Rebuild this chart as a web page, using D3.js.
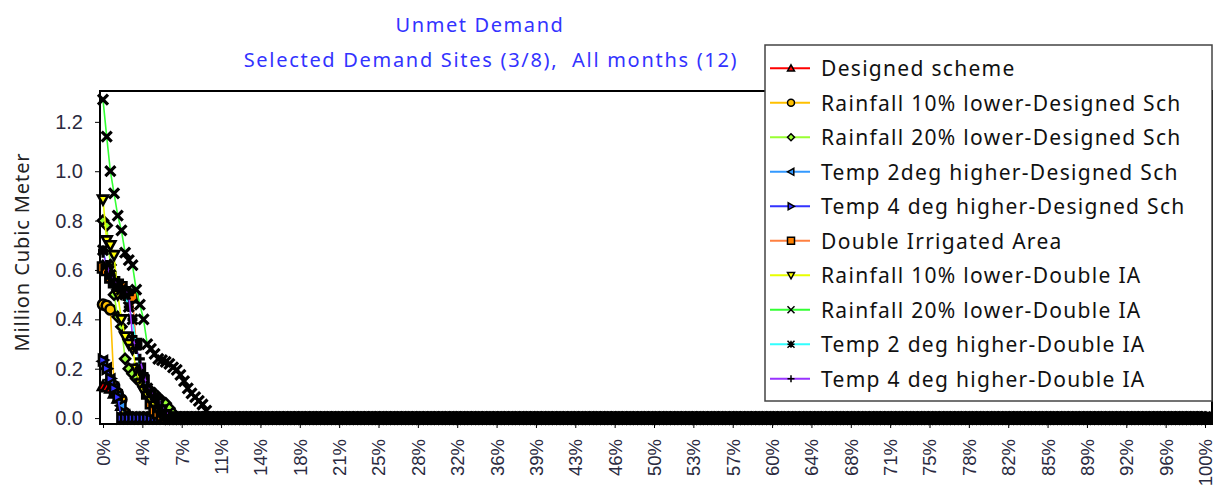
<!DOCTYPE html>
<html>
<head>
<meta charset="utf-8">
<script src="https://cdn.jsdelivr.net/npm/d3@7"></script>
<style>
body { margin: 0; background: #fff; }
svg { display: block; }
</style>
</head>
<body>
<svg id="chart" width="1223" height="489"></svg>
<script>
// series names, in legend order
var seriesNames = [
  "Designed scheme",
  "Rainfall 10% lower-Designed Sch",
  "Rainfall 20% lower-Designed Sch",
  "Temp 2deg higher-Designed Sch",
  "Temp 4 deg higher-Designed Sch",
  "Double Irrigated Area",
  "Rainfall 10% lower-Double IA",
  "Rainfall 20% lower-Double IA",
  "Temp 2 deg higher-Double IA",
  "Temp 4 deg higher-Double IA"
];

// non-zero head of each exceedance curve (Million Cubic Meter); everything after is 0
var designedScheme = [0.13, 0.125, 0.12, 0.10, 0.08, 0.05, 0.02];
var rain10Designed = [0.46, 0.455, 0.44, 0.13, 0.10, 0.075, 0.02];
var rain20Designed = [0.80, 0.78, 0.62, 0.50, 0.41, 0.37, 0.24, 0.20, 0.18, 0.16, 0.15, 0.13, 0.12, 0.11, 0.10, 0.085, 0.07, 0.06, 0.04, 0.02];
var temp2Designed = [0.23, 0.20, 0.155, 0.12, 0.09, 0.05, 0.01];
var temp4Designed = [0.235, 0.20, 0.16, 0.12, 0.085];
var doubleIA = [0.61, 0.60, 0.57, 0.55, 0.54, 0.53, 0.51, 0.50, 0.49, 0.30, 0.20, 0.15, 0.10, 0.06, 0.03, 0.02, 0.01];
var rain10DoubleIA = [0.885, 0.72, 0.70, 0.66, 0.50, 0.40, 0.33, 0.30, 0.28, 0.20, 0.14, 0.11, 0.09, 0.07, 0.05, 0.03, 0.01];
var rain20DoubleIA = [1.29, 1.14, 1.0, 0.91, 0.82, 0.76, 0.67, 0.64, 0.62, 0.52, 0.46, 0.40, 0.30, 0.28, 0.26, 0.24, 0.235, 0.228, 0.22, 0.205, 0.195, 0.175, 0.15, 0.12, 0.10, 0.085, 0.07, 0.055, 0.03];
var temp2DoubleIA = [0.68, 0.62, 0.58, 0.55, 0.53, 0.52, 0.50, 0.45, 0.40, 0.30, 0.20, 0.16, 0.12, 0.10, 0.08, 0.05, 0.03, 0.01];
var temp4DoubleIA = [0.67, 0.62, 0.58, 0.56, 0.54, 0.53, 0.52, 0.50, 0.33, 0.28, 0.24, 0.18, 0.13, 0.11, 0.09, 0.08, 0.05, 0.03, 0.01];

var nPoints = 300; // values per curve

var xTickLabels = ["0%", "4%", "7%", "11%", "14%", "18%", "21%", "25%", "28%", "32%", "36%", "39%", "43%", "46%",
  "50%", "53%", "57%", "60%", "64%", "68%", "71%", "75%", "78%", "82%", "85%", "89%", "92%", "96%", "100%"];
var yTicks = [0, 0.2, 0.4, 0.6, 0.8, 1.0, 1.2];

var heads = [designedScheme, rain10Designed, rain20Designed, temp2Designed, temp4Designed,
  doubleIA, rain10DoubleIA, rain20DoubleIA, temp2DoubleIA, temp4DoubleIA];
var lineColors = ["#ff0000", "#ffc000", "#99ff33", "#3399ff", "#3333ff", "#ff8040", "#e8ff00", "#33ff33", "#33ffff", "#9933ff"];
var markerFills = ["#ff0000", "#ffc000", "#99ff33", "#3399ff", "#3333ff", "#ff8000", "#ffff00", "none", "none", "none"];
var markerTypes = ["triUp", "circle", "diamond", "triLeft", "triRight", "square", "triDown", "x", "star", "plus"];

var series = heads.map(function(h, k) {
  var vals = h.slice();
  while (vals.length < nPoints) vals.push(0);
  return {
    name: seriesNames[k], color: lineColors[k], fill: markerFills[k], type: markerTypes[k],
    values: vals.map(function(v, i) { return { pct: i / (nPoints - 1) * 100, v: v }; })
  };
});

var svg = d3.select("#chart");
var plotLeft = 100, plotRight = 1212, plotTop = 91, plotBottom = 424;

var x = d3.scaleLinear().domain([0, 100]).range([103, 1205]);
var y = d3.scaleLinear().domain([-0.024, 1.325]).range([plotBottom, plotTop]);

function markerPath(t, r) {
  switch (t) {
    case "triUp": return "M0," + (-r) + "L" + r + "," + r * 0.8 + "L" + (-r) + "," + r * 0.8 + "Z";
    case "triDown": return "M0," + r + "L" + r + "," + (-r * 0.8) + "L" + (-r) + "," + (-r * 0.8) + "Z";
    case "triLeft": return "M" + (-r) + ",0L" + r * 0.8 + "," + (-r) + "L" + r * 0.8 + "," + r + "Z";
    case "triRight": return "M" + r + ",0L" + (-r * 0.8) + "," + (-r) + "L" + (-r * 0.8) + "," + r + "Z";
    case "square": return "M" + (-r) + "," + (-r) + "h" + 2 * r + "v" + 2 * r + "h" + (-2 * r) + "Z";
    case "diamond": return "M0," + (-r) + "L" + r + ",0L0," + r + "L" + (-r) + ",0Z";
    case "circle": return "M" + r + ",0A" + r + "," + r + " 0 1,1 " + (-r) + ",0A" + r + "," + r + " 0 1,1 " + r + ",0Z";
    case "x": return "M" + (-r) + "," + (-r) + "L" + r + "," + r + "M" + r + "," + (-r) + "L" + (-r) + "," + r;
    case "plus": return "M" + (-r) + ",0H" + r + "M0," + (-r) + "V" + r;
    case "star": return "M" + (-r) + "," + (-r) + "L" + r + "," + r + "M" + r + "," + (-r) + "L" + (-r) + "," + r +
      "M" + (-r) + ",0H" + r + "M0," + (-r) + "V" + r;
  }
}

var uiFont = "'Noto Sans', sans-serif";

// titles
svg.append("text").attr("x", 480).attr("y", 24).attr("text-anchor", "middle").attr("dominant-baseline", "central")
  .style("font-family", uiFont).style("font-size", "20px").style("letter-spacing", "1.6px")
  .attr("fill", "#3333ff").text("Unmet Demand");
svg.append("text").attr("x", 491).attr("y", 59).attr("text-anchor", "middle").attr("dominant-baseline", "central")
  .style("font-family", uiFont).style("font-size", "20px").style("letter-spacing", "1.7px")
  .style("white-space", "pre").attr("fill", "#3333ff")
  .text("Selected Demand Sites (3/8),  All months (12)");

// y axis title
svg.append("text").attr("transform", "translate(21,252) rotate(-90)").attr("text-anchor", "middle")
  .attr("dominant-baseline", "central").style("font-family", uiFont).style("font-size", "20px")
  .style("letter-spacing", "0.9px").attr("fill", "#222").text("Million Cubic Meter");

// axes
var yAxis = svg.append("g").attr("transform", "translate(" + plotLeft + ",0)")
  .call(d3.axisLeft(y).tickValues(yTicks).tickFormat(d3.format(".1f")).tickSize(5).tickPadding(12));
yAxis.select(".domain").remove();
yAxis.selectAll("text").style("font", "20px 'Liberation Sans', Arial, sans-serif").attr("fill", "#2a2a40");

var xAxis = svg.append("g").attr("transform", "translate(0," + plotBottom + ")")
  .call(d3.axisBottom(x).tickValues(xTickLabels.map(function(d, k) { return k * 100 / 28; }))
    .tickFormat(function(d, k) { return xTickLabels[k]; }).tickSize(4));
xAxis.select(".domain").remove();
xAxis.selectAll("text").attr("transform", "rotate(-90)").attr("text-anchor", "end")
  .attr("x", -15).attr("y", 0).attr("dy", "0.35em")
  .style("font", "18.5px 'Liberation Sans', Arial, sans-serif").attr("fill", "#2a2a40");

// plot frame
svg.append("rect").attr("x", plotLeft).attr("y", plotTop)
  .attr("width", plotRight - plotLeft).attr("height", plotBottom - plotTop)
  .attr("fill", "none").attr("stroke", "#000").attr("stroke-width", 2);

// series
var line = d3.line().x(function(d) { return x(d.pct); }).y(function(d) { return y(d.v); });
series.forEach(function(s) {
  var g = svg.append("g");
  g.append("path").datum(s.values).attr("d", line).attr("fill", "none")
    .attr("stroke", s.color).attr("stroke-width", 1.6);
  g.selectAll(".m").data(s.values).enter().append("path")
    .attr("transform", function(d) { return "translate(" + x(d.pct) + "," + y(d.v) + ")"; })
    .attr("d", markerPath(s.type, 5))
    .attr("fill", s.fill).attr("stroke", "#000")
    .attr("stroke-width", s.fill === "none" ? 3.2 : 2.6);
});

// legend
var lg = svg.append("g").attr("transform", "translate(765,45)");
lg.append("rect").attr("width", 447).attr("height", 356).attr("fill", "#fff")
  .attr("stroke", "#444").attr("stroke-width", 1.5);
series.forEach(function(s, k) {
  var ry = 23.3 + k * 34.5;
  lg.append("line").attr("x1", 5).attr("x2", 45).attr("y1", ry).attr("y2", ry)
    .attr("stroke", s.color).attr("stroke-width", 2);
  lg.append("path").attr("transform", "translate(26," + ry + ")").attr("d", markerPath(s.type, 3.5))
    .attr("fill", s.fill).attr("stroke", "#000").attr("stroke-width", 1.5);
  lg.append("text").attr("x", 56).attr("y", ry).attr("dominant-baseline", "central")
    .style("font-family", uiFont).style("font-size", "21px").style("letter-spacing", "1.3px")
    .attr("fill", "#111").text(s.name);
});
</script>
</body>
</html>
